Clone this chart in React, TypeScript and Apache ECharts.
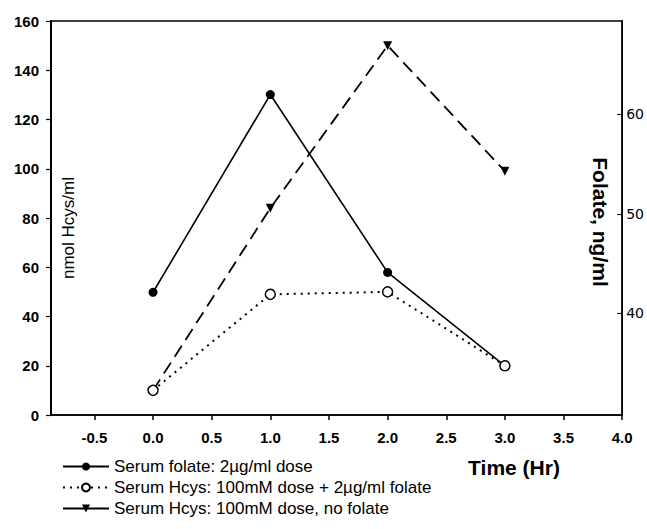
import React, { useEffect, useRef } from "react";
import * as echarts from "echarts";

const times = [0, 1, 2, 3];
const folateNgMl = [42.1, 62.0, 44.1, 34.7];
const hcysWithFolate = [10, 49, 50, 20];
const hcysNoFolate = [10, 84, 150, 99];
const xTickValues = [-0.5, 0, 0.5, 1, 1.5, 2, 2.5, 3, 3.5, 4];
const leftTickValues = [0, 20, 40, 60, 80, 100, 120, 140, 160];
const rightTickValues = [40, 50, 60];
const seriesNames = [
  "Serum folate: 2µg/ml dose",
  "Serum Hcys: 100mM dose + 2µg/ml folate",
  "Serum Hcys: 100mM dose, no folate",
];

const pairs = (ys: number[]) => times.map((t, i) => [t, ys[i]]);

export default function App() {
  const ref = useRef<HTMLDivElement>(null);
  useEffect(() => {
    if (!ref.current) return;
    const chart = echarts.init(ref.current, null, { renderer: "svg" });
    const labelFont = { fontFamily: "Liberation Sans, Arial, sans-serif", fontWeight: "bold" as const, fontSize: 15, color: "#000" };
    chart.setOption({
      animation: false,
      backgroundColor: "#fff",
      grid: { left: 51, right: 24, top: 21, bottom: 114, show: true, borderColor: "#000", borderWidth: 1.5, backgroundColor: "transparent" },
      xAxis: {
        type: "value",
        min: -0.87,
        max: 4,
        axisLine: { show: true, onZero: false, lineStyle: { color: "#000", width: 1.5 } },
        axisTick: { show: true, customValues: xTickValues, length: 5, lineStyle: { color: "#000", width: 1.5 } },
        axisLabel: { customValues: xTickValues, formatter: (v: number) => v.toFixed(1), margin: 15, ...labelFont },
        splitLine: { show: false },
      },
      yAxis: [
        {
          type: "value",
          min: 0,
          max: 160,
          interval: 20,
          position: "left",
          axisLine: { show: true, onZero: false, lineStyle: { color: "#000", width: 2 } },
          axisTick: { show: true, length: 5, lineStyle: { color: "#000", width: 1.2 } },
          axisLabel: { customValues: leftTickValues, margin: 12, ...labelFont },
          splitLine: { show: false },
        },
        {
          type: "value",
          min: 29.75,
          max: 69.4,
          position: "right",
          axisLine: { show: true, onZero: false, lineStyle: { color: "#000", width: 1.5 } },
          axisTick: { show: true, inside: true, length: 5, customValues: rightTickValues, lineStyle: { color: "#000", width: 1.2 } },
          axisLabel: { customValues: rightTickValues, margin: 4, fontFamily: "DejaVu Sans, sans-serif", fontSize: 14, color: "#000" },
          splitLine: { show: false },
        },
      ],
      legend: {
        type: "plain",
        orient: "vertical",
        left: 62,
        top: 458,
        padding: 0,
        height: 70,
        itemWidth: 46,
        itemHeight: 10,
        itemGap: 4,
        textStyle: { fontFamily: "Liberation Sans, Arial, sans-serif", fontSize: 17, lineHeight: 17, color: "#000" },
        data: [
          { name: seriesNames[0] },
          { name: seriesNames[1] },
          { name: seriesNames[2], lineStyle: { type: "solid" } },
        ],
      },
      graphic: [
        {
          type: "text",
          x: 68,
          y: 228,
          rotation: Math.PI / 2,
          style: { text: "nmol Hcys/ml", fontFamily: "Liberation Sans, Arial, sans-serif", fontSize: 17, fill: "#000", textAlign: "center", textVerticalAlign: "middle" },
        },
        {
          type: "text",
          x: 600,
          y: 222,
          rotation: -Math.PI / 2,
          style: { text: "Folate, ng/ml", fontFamily: "Liberation Sans, Arial, sans-serif", fontSize: 21, fontWeight: "bold", fill: "#000", textAlign: "center", textVerticalAlign: "middle" },
        },
        {
          type: "text",
          x: 514,
          y: 467,
          style: { text: "Time (Hr)", fontFamily: "Liberation Sans, Arial, sans-serif", fontSize: 21, fontWeight: "bold", fill: "#000", textAlign: "center", textVerticalAlign: "middle" },
        },
      ],
      series: [
        {
          name: seriesNames[0],
          type: "line",
          yAxisIndex: 1,
          data: pairs(folateNgMl),
          symbol: "circle",
          symbolSize: 9,
          itemStyle: { color: "#000" },
          lineStyle: { color: "#000", width: 1.6, type: "solid" },
          z: 2,
        },
        {
          name: seriesNames[2],
          type: "line",
          yAxisIndex: 0,
          data: pairs(hcysNoFolate),
          symbol: "triangle",
          symbolRotate: 180,
          symbolSize: 9,
          itemStyle: { color: "#000" },
          lineStyle: { color: "#000", width: 1.8, type: [13, 7] },
          z: 3,
        },
        {
          name: seriesNames[1],
          type: "line",
          yAxisIndex: 0,
          data: pairs(hcysWithFolate),
          symbol: "circle",
          symbolSize: 10,
          itemStyle: { color: "#fff", borderColor: "#000", borderWidth: 1.5 },
          lineStyle: { color: "#000", width: 2, type: [2, 5] },
          z: 4,
        },
      ],
    });
    return () => chart.dispose();
  }, []);
  return <div ref={ref} style={{ width: 647, height: 529, position: "absolute", left: 0, top: 0 }} />;
}
